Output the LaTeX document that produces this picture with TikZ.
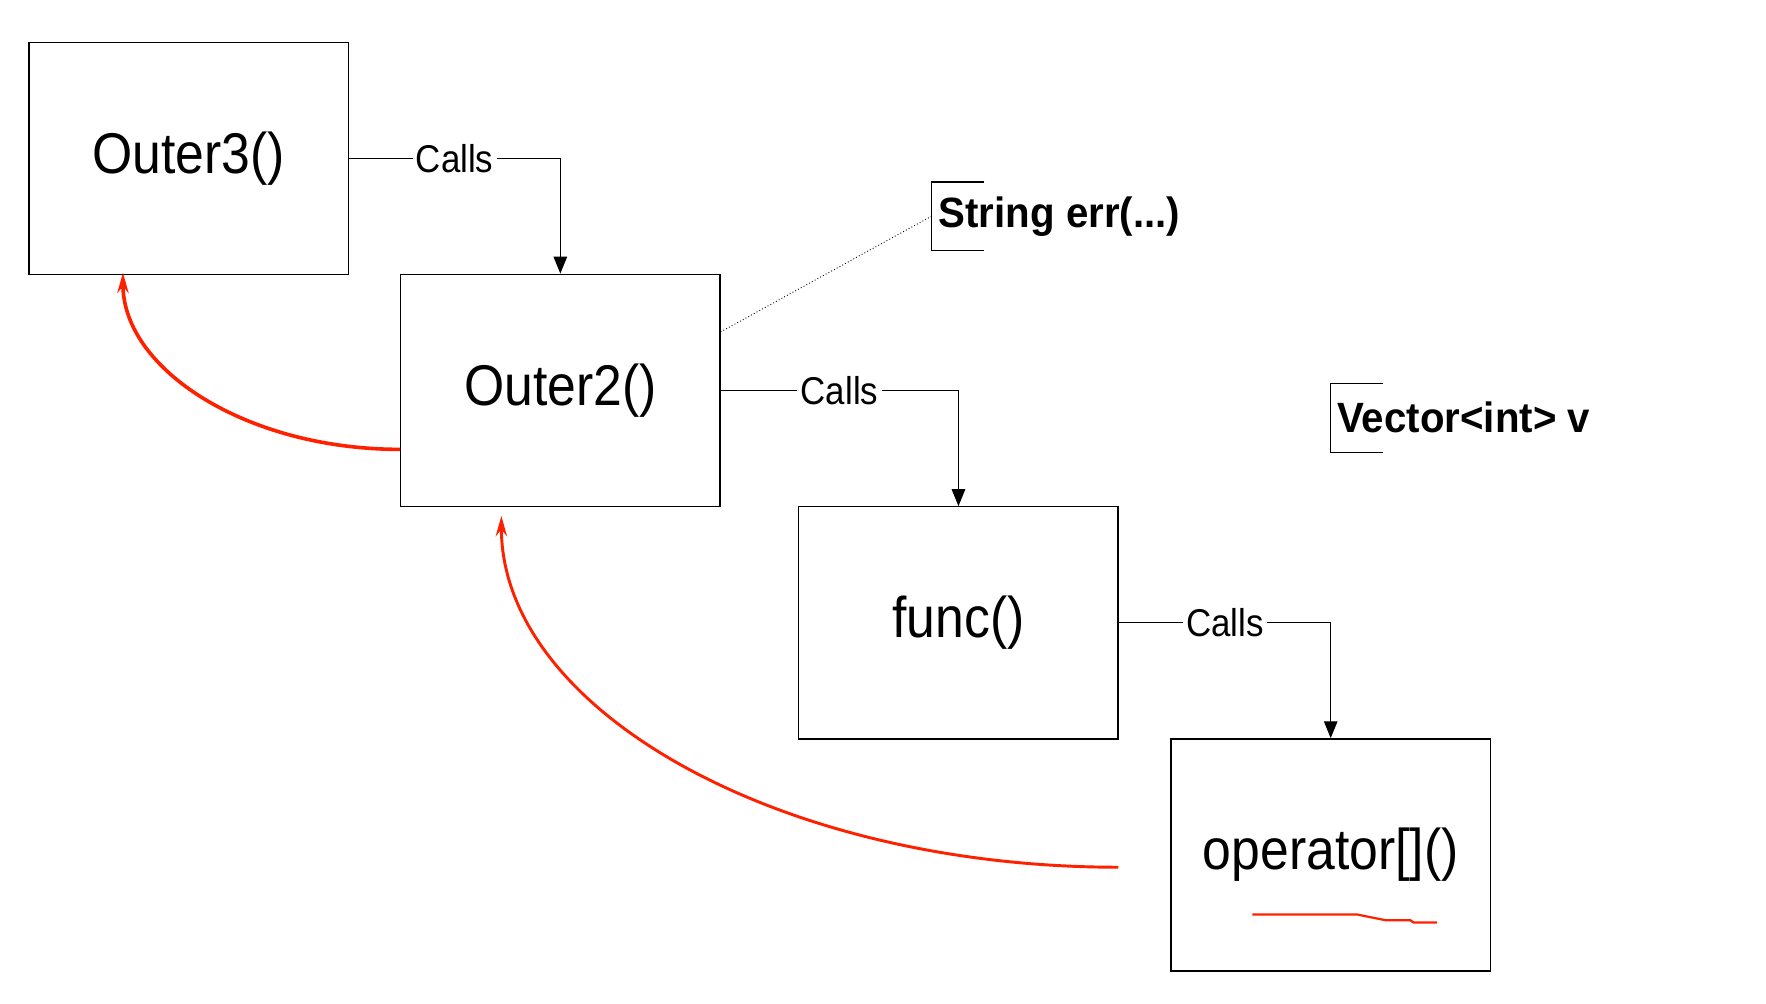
\documentclass[tikz,border=0pt]{standalone}
\usepackage{fontspec}
\setmainfont{Liberation Sans}[FakeStretch=0.9]
\newfontfamily\notefont{Liberation Sans}[FakeStretch=0.95]
\usetikzlibrary{arrows.meta,calc}
\definecolor{retred}{RGB}{255,32,0}
\begin{document}
\begin{tikzpicture}[x=0.5pt, y=-0.5pt,
    func/.style={draw, line width=0.6pt, minimum width=141.75pt, minimum height=103pt,
                 inner sep=0pt, font=\fontsize{25.5}{30}\selectfont},
    calls/.style={line width=0.5pt, -{Triangle[length=7.5pt,width=6pt]}},
    lbl/.style={fill=white, inner sep=1.5pt, font=\fontsize{17.2}{20}\selectfont},
    note/.style={anchor=west, inner xsep=3pt, minimum height=30pt,
                 font=\notefont\bfseries\fontsize{18.8}{22}\selectfont},
    back/.style={retred, -{Stealth[length=9pt,width=5pt,inset=3pt]}}]
        \useasboundingbox (0,0) rectangle (1568,891.4);                   %
        \node [func] (outer3) at (167.5,140.5)  {Outer3()};               %
        \node [func] (outer2) at (497.5,346.5)  {Outer2()};               %
        \node [func] (funcbox) at (851,553)     {func()};                 %
        \node [func] (opbox)  at (1181.5,759)   {operator[]()};           %
        \draw [calls] (outer3.east) -| node [lbl, pos=0.25] (calls1) {Calls} (outer2.north);
        \draw [calls] (outer2.east) -| node [lbl, pos=0.25] (calls2) {Calls} (funcbox.north);
        \draw [calls] (funcbox.east) -| node [lbl, pos=0.25] (calls3) {Calls} (opbox.north);
        \node [note] (strerr) at (827,192)      {String err(...)};        %
        \draw [line width=0.5pt] ($(strerr.north west)+(47,0)$) -| (strerr.south west) -- ++(47,0);
        \draw [densely dotted, line width=0.4pt] ($(outer2.north east)!0.25!(outer2.south east)$) -- (strerr.west);
        \node [note] (vecv) at (1181,371)       {Vector<int> v};          %
        \draw [line width=0.5pt] ($(vecv.north west)+(47,0)$) -| (vecv.south west) -- ++(47,0);
        \draw [back, line width=1.6pt] ($(outer2.west)+(0,52.5)$)         % back to Outer3
              .. controls +(-136,0) and +(0,86) .. ($(outer3.south west)+(84,-2)$);
        \coordinate (retstart) at (993,770);                              %
        \draw [back, line width=1.3pt] (retstart)                         % back to Outer2
              .. controls +(-302,0) and +(0,172) .. ($(outer2.south west)+(90,8)$);
        \draw [retred, line width=1pt] ($(opbox.center)+(-69.5,53)$)      %
              -- ++(93,0) -- ++(25,5) -- ++(22,0) -- ++(3,2) -- ++(21,0);
       \end{tikzpicture}
\end{document}
